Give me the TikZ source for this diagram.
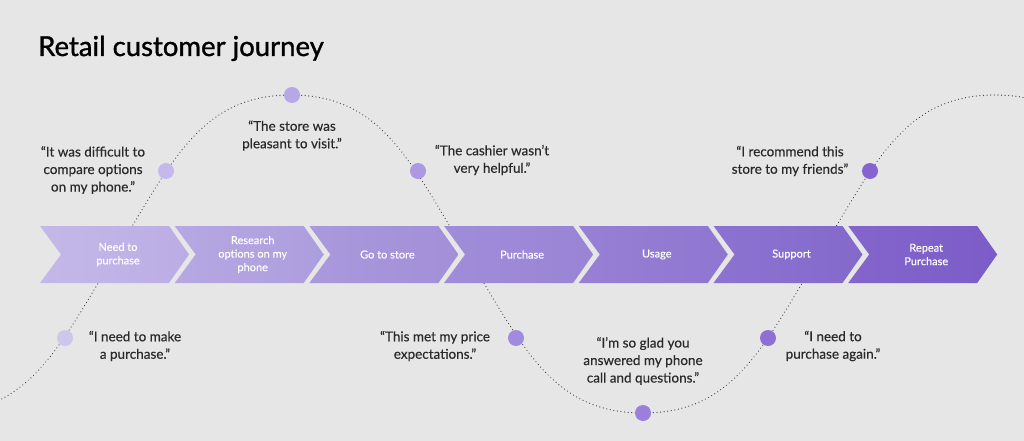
\documentclass[tikz,border=0pt]{standalone}
\usepackage{fontspec}
\setmainfont{Lato}
\newfontfamily\titlefont[FakeBold=1.1]{Lato}
\newfontfamily\quotefont[FakeBold=0.35]{Lato}
\newfontfamily\stepfont[FakeBold=0.25]{Lato}
\definecolor{bg}{HTML}{E6E6E6}
\definecolor{quotegray}{HTML}{2A2A2A}
\definecolor{linegray}{HTML}{4A4A4A}
\definecolor{ca1}{HTML}{C4B8E8}\definecolor{cb1}{HTML}{BBADE4}
\definecolor{ca2}{HTML}{B6A8E2}\definecolor{cb2}{HTML}{AD9DDE}
\definecolor{ca3}{HTML}{AA99DC}\definecolor{cb3}{HTML}{A28FD8}
\definecolor{ca4}{HTML}{A08DD9}\definecolor{cb4}{HTML}{9984D5}
\definecolor{ca5}{HTML}{9780D4}\definecolor{cb5}{HTML}{8F76D1}
\definecolor{ca6}{HTML}{8C73D0}\definecolor{cb6}{HTML}{8469CC}
\definecolor{ca7}{HTML}{8365CC}\definecolor{cb7}{HTML}{7C5DC8}
\definecolor{d1}{HTML}{CFC6EE}
\definecolor{d2}{HTML}{C5B9EB}
\definecolor{d3}{HTML}{B8A7E7}
\definecolor{d4}{HTML}{AD99E2}
\definecolor{d5}{HTML}{A18BDE}
\definecolor{d6}{HTML}{9A80DB}
\definecolor{d7}{HTML}{8E70D5}
\definecolor{d8}{HTML}{8563D1}
\begin{document}
\begin{tikzpicture}[x=1pt,y=-1pt,
  quote/.style={text=quotegray, font=\quotefont\fontsize{13.5}{17.5}\selectfont, align=center, inner sep=0pt},
  steplabel/.style={text=white, font=\stepfont\fontsize{11}{13.5}\selectfont, align=center, inner sep=0pt},
  dotnode/.style={circle, minimum size=16pt, inner sep=0pt},
  journey/.style={draw=linegray, line width=1.3pt, dash pattern=on 0.01pt off 3.6pt, line cap=round}
]
\useasboundingbox[fill=bg] (0,0) rectangle (1024,441);

% title
\node[anchor=base west, inner sep=0pt, font=\titlefont\fontsize{27.5}{32}\selectfont, text=black] (title) at (38,56) {Retail customer journey};

% journey curve
\coordinate (v0) at (-61,413);
\coordinate (c0) at (115,255);
\coordinate (p0) at (291,95);
\coordinate (c1) at (467,255);
\coordinate (v1) at (643,413);
\coordinate (c2) at (819,255);
\coordinate (p1) at (995,95);
\coordinate (c3) at (1171,255);
\begin{scope}
\clip (0,0) rectangle (1024,441);
\draw[journey] (v0) .. controls (29,413) and (58,349) .. (c0)
  .. controls (172,161) and (201,95) .. (p0)
  .. controls (381,95) and (410,161) .. (c1)
  .. controls (524,349) and (553,413) .. (v1)
  .. controls (733,413) and (762,349) .. (c2)
  .. controls (876,161) and (905,95) .. (p1)
  .. controls (1085,95) and (1114,161) .. (c3);
\end{scope}

% chevrons
\foreach \i/\lab in {1/{Need to\\purchase},2/{Research\\options on my\\phone},3/{Go to store},4/{Purchase},5/{Usage},6/{Support},7/{Repeat\\Purchase}}{
  \pgfmathsetmacro{\xo}{40+134.7*(\i-1)}
  \shade[left color=ca\i, right color=cb\i]
    (\xo,226) -- (\xo+129,226) -- (\xo+149,254.5) -- (\xo+129,283) -- (\xo,283) -- (\xo+21,254.5) -- cycle;
  \node[steplabel] (s\i) at (\xo+78,254.5) {\lab};
}

% dots
\node[dotnode, fill=d1] (dot1) at (65,338) {};
\node[dotnode, fill=d2] (dot2) at (166,171) {};
\node[dotnode, fill=d3] (dot3) at (292,95) {};
\node[dotnode, fill=d4] (dot4) at (418,171) {};
\node[dotnode, fill=d5] (dot5) at (516,338) {};
\node[dotnode, fill=d6] (dot6) at (643,413) {};
\node[dotnode, fill=d7] (dot7) at (768,338) {};
\node[dotnode, fill=d8] (dot8) at (870,171) {};

% quotes
\node[quote] (q1) at (93,170) {“It was difficult to\\compare options\\on my phone.”};
\node[quote] (q2) at (292,135.5) {“The store was\\pleasant to visit.”};
\node[quote] (q3) at (492,160) {“The cashier wasn’t\\very helpful.”};
\node[quote] (q4) at (790,161) {“I recommend this\\store to my friends”};
\node[quote] (q5) at (135,346) {“I need to make\\a purchase.”};
\node[quote] (q6) at (435,346) {“This met my price\\expectations.”};
\node[quote] (q7) at (643,361) {“I’m so glad you\\answered my phone\\call and questions.”};
\node[quote] (q8) at (833,346) {“I need to\\purchase again.”};
\end{tikzpicture}
\end{document}
